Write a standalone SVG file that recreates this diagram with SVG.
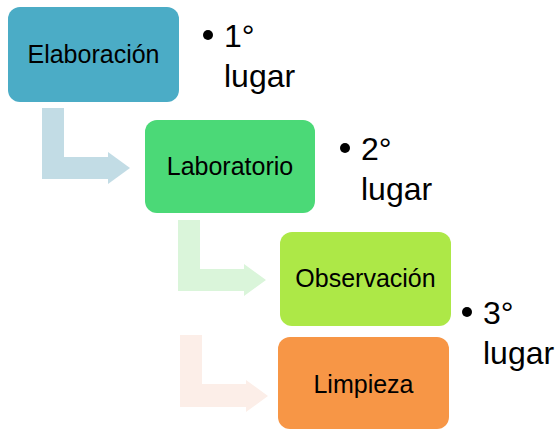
<svg xmlns="http://www.w3.org/2000/svg" width="559" height="429" viewBox="0 0 559 429">
<style>
.lbl{font-family:"Liberation Sans",Arial,sans-serif;font-size:25px;fill:#000;text-anchor:middle}
.bul{font-family:"Liberation Sans",Arial,sans-serif;font-size:32px;fill:#000}
</style>
<rect width="559" height="429" fill="#fff"/>
<g id="connectors">
<polygon fill="#C2DCE5" points="42,108 64,108 64,157 108,157 108,152 130,168 108,184 108,179 42,179"/>
<polygon fill="#DAF5DA" points="178,220 200,220 200,269 244,269 244,264 266,280 244,296 244,291 178,291"/>
<polygon fill="#FCEEE8" points="180,335 202,335 202,384 246,384 246,380 268,396 246,412 246,407 180,407"/>
</g>
<g id="n1">
<rect x="8" y="7" width="171" height="95" rx="12" fill="#4BACC6"/>
<text class="lbl" x="93.5" y="63">Elaboración</text>
</g>
<g id="n2">
<rect x="145" y="120" width="170" height="93" rx="12" fill="#4BD977"/>
<text class="lbl" x="230" y="175">Laboratorio</text>
</g>
<g id="n3">
<rect x="280" y="232" width="171" height="94" rx="12" fill="#ADE847"/>
<text class="lbl" x="365.5" y="287">Observación</text>
</g>
<g id="n4">
<rect x="278" y="337" width="171" height="92" rx="12" fill="#F79646"/>
<text class="lbl" x="363.5" y="393">Limpieza</text>
</g>
<g id="b1">
<circle cx="208" cy="35" r="5" fill="#000"/>
<text class="bul" x="224" y="47">1°</text>
<text class="bul" x="224" y="87">lugar</text>
</g>
<g id="b2">
<circle cx="345" cy="148" r="5" fill="#000"/>
<text class="bul" x="361" y="160">2°</text>
<text class="bul" x="361" y="200">lugar</text>
</g>
<g id="b3">
<circle cx="467" cy="312" r="5" fill="#000"/>
<text class="bul" x="483" y="324">3°</text>
<text class="bul" x="483" y="364">lugar</text>
</g>
</svg>
